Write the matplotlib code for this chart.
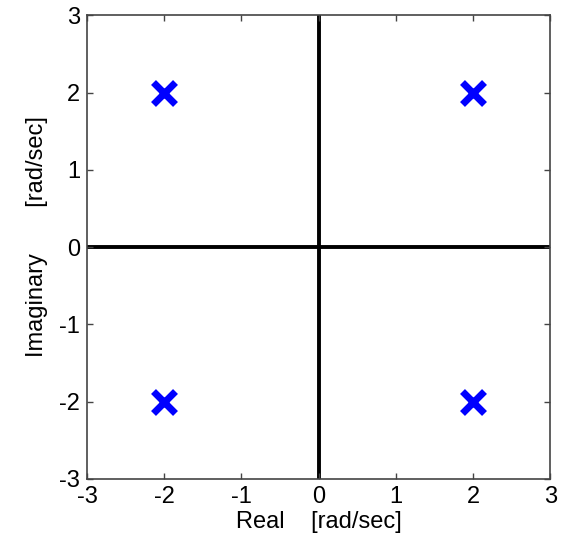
import numpy as np
import matplotlib.pyplot as plt

plt.rcParams['font.family'] = ['Liberation Sans', 'DejaVu Sans']
plt.rcParams['axes.unicode_minus'] = False

# pole locations
pole_re = [-2, -2, 2, 2]
pole_im = [2, -2, 2, -2]
ticks = [-3, -2, -1, 0, 1, 2, 3]

fig = plt.figure(figsize=(5.69, 5.46), dpi=100)
ax = fig.add_axes([0.153, 0.123, 0.814, 0.849])

ax.axhline(0, color='black', lw=2.8, zorder=1)
ax.axvline(0, color='black', lw=2.8, zorder=1)
ax.plot(pole_re, pole_im, 'x', color='#0000ff', markersize=16, mew=5, zorder=3)

ax.set_xlim(-3, 3)
ax.set_ylim(-3, 3)
ax.set_xticks(ticks)
ax.set_yticks(ticks)
ax.tick_params(direction='in', length=4, width=1, color='#444444', labelsize=17, pad=5,
               top=True, right=True)
for s in ax.spines.values():
    s.set_color('#444444')
    s.set_linewidth(1.2)

ax.set_xlabel('Real    [rad/sec]', fontsize=17, labelpad=2)
ax.set_ylabel('Imaginary       [rad/sec]', fontsize=17, labelpad=8)
ax.yaxis.label.set_y(0.522)

fig.savefig('out.png', dpi=100)
